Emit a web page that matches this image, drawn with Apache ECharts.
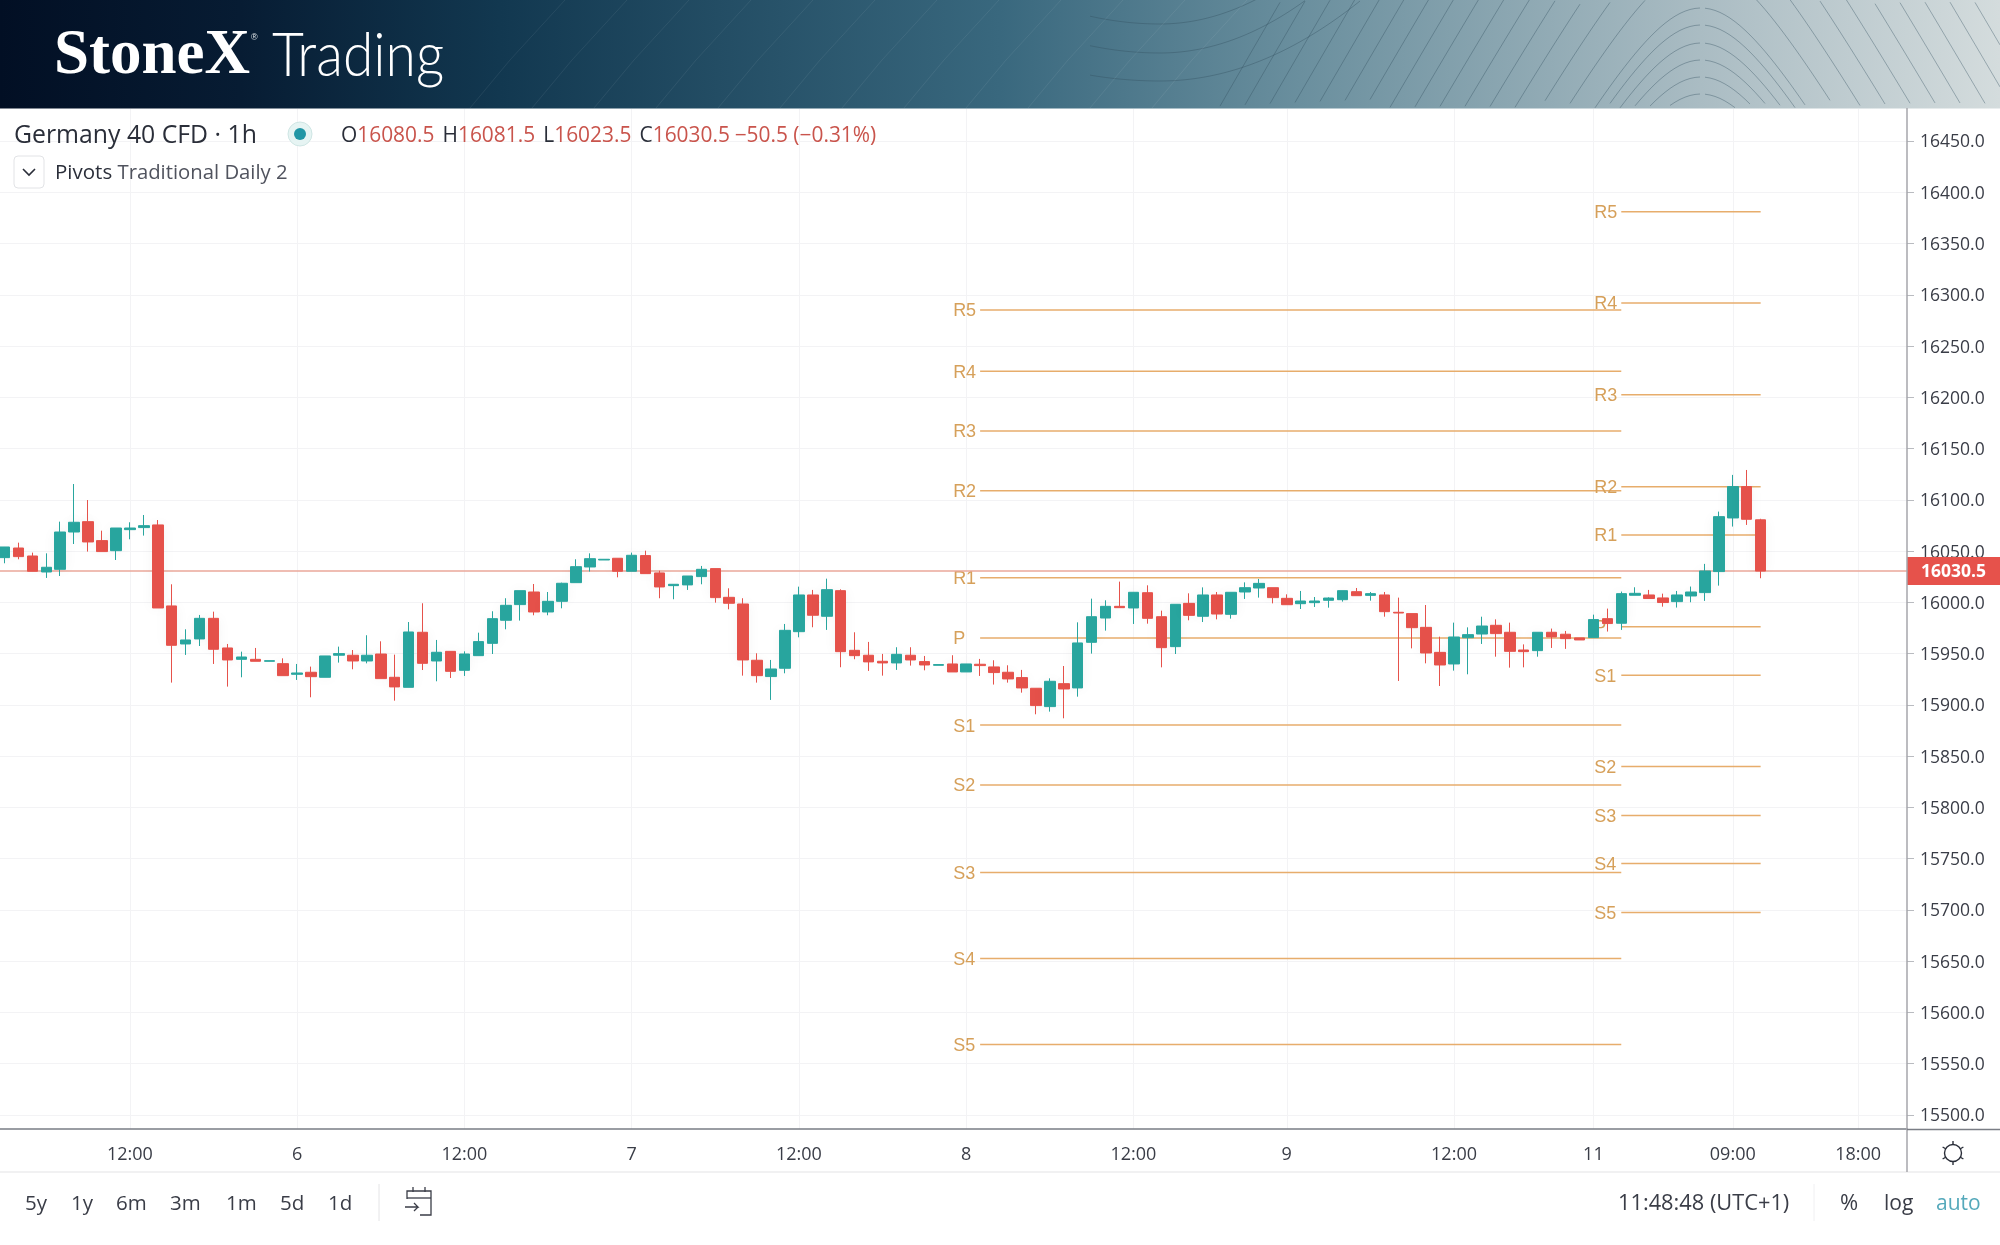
<!DOCTYPE html>
<html><head><meta charset="utf-8">
<style>html,body{margin:0;padding:0;background:#fff}#c{width:2000px;height:1245px}</style>
<script src="https://cdn.jsdelivr.net/npm/echarts@6/dist/echarts.min.js"></script>
</head><body><div id="c"></div>
<script>
const xLabels = [
 '','','','','','','','','','12:00',
 '','','','','','','','','','','','6',
 '','','','','','','','','','','','12:00',
 '','','','','','','','','','','','7',
 '','','','','','','','','','','','12:00',
 '','','','','','','','','','','','8',
 '','','','','','','','','','','','12:00',
 '','','','','','','','','','','9',
 '','','','','','','','','','','','12:00',
 '','','','','','','','','','11',
 '','','','','','','','','','09:00',
 '','','','','','','','','18:00',
 '','',''
];
const opens = [
16043.6,16053.0,16045.2,16029.6,16032.2,16068.6,16078.7,16060.2,16050.4,16070.9,
16072.9,16075.5,15996.5,15959.4,15964.3,15984.4,15955.5,15944.4,15944.4,15942.5,
15940.2,15929.8,15931.8,15926.9,15948.4,15948.4,15942.8,15949.6,15926.9,15917.1,
15970.8,15942.8,15952.2,15933.7,15948.0,15960.0,15982.5,15997.8,16010.1,15990.6,
16001.0,16019.2,16034.5,16041.3,16043.0,16030.3,16045.6,16028.7,16016.3,16017.0,
16025.1,16032.9,16004.9,15998.4,15943.5,15927.6,15935.7,15971.4,16007.2,15986.4,
16011.4,15953.2,15948.4,15942.5,15940.9,15948.4,15942.2,15938.6,15939.9,15932.1,
15939.6,15937.0,15931.8,15926.6,15916.2,15898.3,15920.7,15916.5,15961.0,15984.7,
15996.1,15994.5,16009.4,15986.0,15956.8,15999.0,15986.4,16007.2,15988.3,16010.1,
16014.0,16014.3,16003.9,15998.7,15999.7,16002.0,16002.6,16010.4,16006.8,16007.2,
15990.3,15989.0,15975.6,15951.2,15939.9,15965.5,15969.1,15977.6,15970.8,15953.5,
15952.9,15970.8,15968.9,15965.3,15965.6,15984.1,15979.6,16006.9,16007.2,16004.3,
16000.7,16006.2,16009.5,16030.0,16082.3,16112.9,16080.5];
const closes = [
16054.0,16044.6,16030.3,16034.2,16068.6,16078.1,16058.9,16049.5,16072.5,16072.5,
16074.8,15994.5,15958.1,15963.3,15984.4,15954.2,15943.8,15946.7,15942.5,15943.1,
15928.5,15931.1,15927.5,15947.7,15950.0,15942.8,15948.4,15925.6,15917.5,15971.1,
15940.5,15951.3,15932.7,15949.6,15961.7,15984.1,15997.1,16011.4,15990.6,16001.0,
16018.6,16034.8,16042.6,16042.0,16030.3,16045.9,16028.0,16015.0,16017.6,16025.7,
16032.2,16004.6,15999.1,15943.8,15928.5,15935.0,15972.7,16007.2,15987.4,16012.4,
15951.9,15948.0,15941.9,15940.9,15949.3,15943.8,15938.9,15939.3,15932.1,15939.9,
15938.3,15931.5,15925.3,15916.5,15899.3,15923.0,15915.5,15960.4,15986.0,15996.1,
15994.8,16009.8,15984.4,15955.8,15998.1,15987.3,16007.2,15988.6,16009.8,16014.3,
16018.5,16004.6,15997.7,16001.3,16001.3,16004.2,16011.4,16006.5,16008.5,15990.9,
15989.6,15975.3,15950.6,15938.9,15966.2,15968.5,15976.9,15969.5,15952.2,15951.9,
15970.8,15966.3,15964.6,15963.3,15983.2,15979.3,16008.5,16008.8,16003.7,15999.8,
16007.2,16010.1,16030.6,16083.6,16112.9,16081.0,16030.5];
const highs = [
16054.0,16058.2,16048.5,16047.8,16078.7,16115.4,16099.8,16069.9,16072.5,16078.1,
16085.2,16080.3,16017.6,15973.7,15987.7,15990.9,15959.4,15951.9,15955.5,15943.1,
15945.4,15939.9,15937.3,15947.7,15956.8,15953.5,15967.9,15962.0,15949.0,15980.8,
15999.1,15963.3,15952.2,15952.2,15970.4,15991.3,16004.0,16011.4,16017.9,16010.1,
16019.2,16042.0,16047.8,16042.0,16043.0,16048.5,16050.4,16030.9,16017.6,16025.7,
16035.5,16032.9,16013.7,16004.0,15950.3,15943.8,15978.9,16015.3,16012.1,16023.1,
16012.7,15970.8,15961.4,15949.7,15956.2,15956.2,15947.7,15939.3,15948.4,15939.9,
15944.8,15943.5,15938.6,15934.1,15916.2,15925.9,15937.9,15980.5,16003.6,16002.0,
16020.2,16009.8,16016.6,15991.9,15998.1,16008.8,16014.6,16010.1,16009.8,16019.5,
16022.8,16014.3,16007.8,16011.1,16005.2,16004.9,16011.4,16014.0,16010.1,16010.1,
16004.6,15989.0,15997.4,15966.5,15980.2,15975.6,15986.0,15983.4,15980.2,15959.0,
15970.8,15974.4,15972.1,15965.3,15988.0,15993.9,16010.5,16014.7,16012.1,16008.5,
16011.1,16015.4,16037.5,16088.5,16124.3,16129.1,16081.5];
const lows = [
16038.1,16042.0,16030.3,16023.8,16025.7,16056.9,16049.5,16049.5,16041.3,16061.5,
16065.1,15994.5,15921.7,15948.7,15957.4,15939.9,15917.8,15926.9,15942.5,15942.5,
15928.5,15924.3,15907.4,15926.9,15941.2,15934.7,15940.5,15925.6,15904.1,15917.1,
15934.0,15923.0,15926.2,15928.2,15948.0,15949.6,15973.7,15982.2,15987.4,15987.4,
15994.2,16019.2,16030.0,16041.3,16024.4,16030.3,16028.0,16004.0,16003.0,16012.1,
16017.6,15999.7,15993.2,15928.5,15921.7,15904.8,15930.8,15965.9,15975.7,15973.1,
15936.7,15944.5,15933.1,15928.5,15934.1,15938.3,15933.7,15938.6,15932.1,15932.1,
15928.2,15919.8,15921.7,15911.9,15890.8,15893.4,15886.9,15908.0,15950.0,15972.4,
15994.8,15978.9,15979.2,15936.6,15949.6,15982.5,15980.8,15983.4,15984.1,16003.3,
16004.6,15999.0,15997.7,15993.5,15995.5,15994.8,16000.7,16006.5,16001.6,15986.0,
15923.3,15955.1,15940.5,15918.4,15933.4,15929.8,15959.4,15947.0,15936.3,15936.6,
15947.0,15955.5,15954.6,15963.3,15965.6,15971.5,15973.1,16006.9,16003.7,15995.8,
15994.9,16000.1,16001.4,16016.3,16073.9,16075.5,16023.5];
const pivotNames = ['R5','R4','R3','R2','R1','P','S1','S2','S3','S4','S5'];
const pivotsFirst = [16285.2,16225.5,16167.2,16108.9,16024.1,15965.3,15880.3,15821.9,15736.6,15652.7,15568.6];
const pivotsSecond = [16381.0,16292.0,16202.5,16112.8,16065.7,15976.3,15928.9,15839.9,15792.0,15745.3,15697.4];
const pivotSpans = [[70,116],[116,126]];
const yTicks = [15500,15550,15600,15650,15700,15750,15800,15850,15900,15950,16000,16050,16100,16150,16200,16250,16300,16350,16400,16450];
const lastPrice = 16030.5;
const rangeButtons = ['5y','1y','6m','3m','1m','5d','1d'];
const rangeButtonX = [25,71,116,170,226,280,328];

const UP='#29a69f', DOWN='#e6524b', PIV='#e7ad6c', PIVT='#d6a05a';
const FONT='"Open Sans"';
const chart = echarts.init(document.getElementById('c'),null,{renderer:'canvas',devicePixelRatio:1});
const hasLabel=(i,v)=>v!=='';

function pivotSeries(values,span){
  return {type:'custom',z:2,silent:true,clip:false,
    data:values.map(v=>[span[0],span[1],v]),
    encode:{x:[0,1],y:2},
    renderItem(params,api){
      const a=api.coord([api.value(0),api.value(2)]), b=api.coord([api.value(1),api.value(2)]);
      return {type:'group',children:[
        {type:'line',shape:{x1:a[0],y1:a[1],x2:b[0],y2:b[1]},style:{stroke:PIV,lineWidth:1.5}},
        {type:'text',style:{text:pivotNames[params.dataIndex],x:a[0]-27,y:a[1]+1.5,align:'left',verticalAlign:'middle',
          fill:PIVT,font:'18px "Liberation Sans"'}}
      ]};
    }};
}
const header=[];
header.push({type:'rect',shape:{x:0,y:0,width:2000,height:108.5},z:50,silent:true,style:{fill:new echarts.graphic.LinearGradient(0,0,1,0,[
  {offset:0,color:'#020f24'},{offset:0.12,color:'#071c33'},{offset:0.25,color:'#123850'},{offset:0.5,color:'#39687e'},
  {offset:0.65,color:'#6a8f9e'},{offset:0.85,color:'#aabcc3'},{offset:1,color:'#d4dcdd'}])}});
// decorative contour lines of the banner
const contour=(pts)=>{ if(pts.length>1) header.push({type:'polyline',z:51,silent:true,shape:{points:pts},style:{stroke:'rgba(50,80,95,0.38)',lineWidth:1,fill:null}}); };
const peakOffsets=[8,25,43,60,77,94,-34,-76,-118,-160,-202,-244,-286,-328,-370,-412,-454,-496,-538,-580,-622];
peakOffsets.forEach(y0=>{
  const left=[],right=[];
  for(let x=1200;x<=2000;x+=5){
    const d=x-1701, y=y0+1.75*(Math.sqrt(d*d+4900)-70);
    if(y>=-3&&y<=108) (x<1701?left:right).push([x,y]);
  }
  contour(left);contour(right);
});
[[24,0.00266],[53,0.00249],[81,0.002]].forEach(v=>{
  const pts=[];
  for(let x=1090;x<=1380;x+=5){ const y=v[0]-v[1]*(x-1160)*(x-1160)*(x>1160?1:0.6); if(y>=-3) pts.push([x,y]); }
  contour(pts);
});
for(let k=0;k<12;k++){
  const sx=470+k*62;
  header.push({type:'polyline',z:51,silent:true,shape:{points:[[sx,108],[sx+40,60],[sx+95,0]]},style:{stroke:'rgba(255,255,255,0.07)',lineWidth:1,fill:null}});
}
const txt=(text,x,y,size,fill)=>({type:'text',z:60,silent:true,style:{text,x,y,fill,font:size+'px '+FONT,verticalAlign:'middle',align:'left'}});
const overlay=[
  {type:'text',z:60,silent:true,style:{text:'StoneX',x:54,y:57,fill:'#fff',font:'bold 63px "Liberation Serif"',verticalAlign:'middle'}},
  {type:'text',z:60,silent:true,style:{text:'®',x:251,y:38,fill:'#dfe5e8',font:'9px "Liberation Sans"',verticalAlign:'middle'}},
  {type:'text',z:60,silent:true,x:272,y:56,scaleX:0.89,style:{text:'Trading',x:0,y:0,fill:'#fff',font:'300 62px Lato',verticalAlign:'middle'}},
  txt('Germany 40 CFD · 1h',14,136,24.8,'#2a2e39'),
  {type:'circle',z:60,silent:true,shape:{cx:300,cy:134,r:12},style:{fill:'#e6f4f3',stroke:'#cfe6e4',lineWidth:1}},
  {type:'circle',z:61,silent:true,shape:{cx:300,cy:134,r:6},style:{fill:'#2196a5'}},
  {type:'text',z:60,silent:true,style:{x:341,y:136,verticalAlign:'middle',
    text:'{k|O}{v|16080.5}  {g|H}{v|16081.5}  {g|L}{v|16023.5}  {g|C}{v|16030.5} {g|}{v|−50.5 (−0.31%)}',
    rich:{k:{fill:'#2a2e39',font:'20.9px '+FONT},g:{fill:'#2a2e39',font:'20.9px '+FONT,padding:[0,0,0,1.5]},v:{fill:'#c9544c',font:'20.9px '+FONT}}}},
  {type:'rect',z:60,silent:true,shape:{x:14,y:156,width:30,height:32,r:4},style:{fill:'#fff',stroke:'#e2e3e6',lineWidth:1}},
  {type:'polyline',z:61,silent:true,shape:{points:[[23,169],[29,175],[35,169]]},style:{stroke:'#2a2e39',lineWidth:1.6,fill:null}},
  {type:'text',z:60,silent:true,style:{x:55,y:173,verticalAlign:'middle',text:'{a|Pivots}{s| }{b|Traditional Daily 2}',
    rich:{a:{fill:'#2a2e39',font:'20.5px '+FONT},s:{font:'20.5px '+FONT,fill:'#fff'},b:{fill:'#50535e',font:'20.3px '+FONT}}}},
  {type:'line',z:60,silent:true,shape:{x1:1907,y1:108,x2:1907,y2:1172},style:{stroke:'#a6a6ab',lineWidth:1.5}},
  {type:'line',z:60,silent:true,shape:{x1:1907,y1:1129.5,x2:2000,y2:1129.5},style:{stroke:'#7a7d85',lineWidth:1.5}},
  {type:'line',z:40,silent:true,shape:{x1:0,y1:1172,x2:2000,y2:1172},style:{stroke:'#ececee',lineWidth:1.5}},
  {type:'line',z:60,silent:true,shape:{x1:379,y1:1184,x2:379,y2:1221},style:{stroke:'#e4e4e6',lineWidth:1}},
  {type:'line',z:60,silent:true,shape:{x1:1814,y1:1184,x2:1814,y2:1221},style:{stroke:'#f0f0f2',lineWidth:1}},
  // calendar icon
  {type:'polyline',z:60,silent:true,shape:{points:[[407,1199],[407,1191],[431,1191],[431,1215],[420,1215]]},style:{stroke:'#3a3d47',lineWidth:1.3,fill:null}},
  {type:'line',z:60,silent:true,shape:{x1:407,y1:1198,x2:431,y2:1198},style:{stroke:'#3a3d47',lineWidth:1.3}},
  {type:'line',z:60,silent:true,shape:{x1:413,y1:1187,x2:413,y2:1192},style:{stroke:'#3a3d47',lineWidth:1.3}},
  {type:'line',z:60,silent:true,shape:{x1:425,y1:1187,x2:425,y2:1192},style:{stroke:'#3a3d47',lineWidth:1.3}},
  {type:'polyline',z:60,silent:true,shape:{points:[[405,1207],[418,1207],[414,1203]]},style:{stroke:'#3a3d47',lineWidth:1.3,fill:null}},
  {type:'line',z:60,silent:true,shape:{x1:418,y1:1207,x2:414,y2:1211},style:{stroke:'#3a3d47',lineWidth:1.3}},
  txt('11:48:48 (UTC+1)',1618,1204,21.8,'#3a3d47'),
  txt('%',1840,1204,22,'#3a3d47'),
  txt('log',1884,1204,21,'#3a3d47'),
  txt('auto',1936,1204,21,'#55a9bb'),
  // settings icon
  {type:'circle',z:60,silent:true,shape:{cx:1953,cy:1153,r:8.5},style:{fill:'#fff',stroke:'#2a2e39',lineWidth:1.4}}
];
rangeButtons.forEach((t,i)=>overlay.push(txt(t,rangeButtonX[i],1204,20.5,'#3a3d47')));
for(let a=0;a<6;a++){
  const t=Math.PI/2+a*Math.PI/3, c=Math.cos(t), s=Math.sin(t);
  overlay.push({type:'line',z:60,silent:true,shape:{x1:1953+c*8.5,y1:1153+s*8.5,x2:1953+c*12,y2:1153+s*12},style:{stroke:'#2a2e39',lineWidth:1.4}});
}

chart.setOption({
  animation:false,backgroundColor:'#fff',
  grid:{left:-2.5,top:109,width:1909.5,height:1020,containLabel:false,outerBoundsMode:'none'},
  xAxis:{type:'category',data:xLabels,boundaryGap:true,
    axisLine:{lineStyle:{color:'#7a7d85',width:1.5}},
    axisTick:{alignWithLabel:true,length:6,interval:hasLabel,lineStyle:{color:'#b9bbc0'}},
    splitLine:{show:true,alignWithLabel:true,interval:hasLabel,lineStyle:{color:'#f3f3f5',width:1}},
    axisLabel:{interval:hasLabel,margin:17,color:'#3a3d47',fontFamily:FONT,fontSize:18,hideOverlap:false}},
  yAxis:{type:'value',position:'right',min:15486.3,max:16481.2,scale:true,
    axisLine:{show:false},
    axisTick:{show:true,length:7,customValues:yTicks,lineStyle:{color:'#b9bbc0'}},
    splitLine:{show:true,lineStyle:{color:'#f3f3f5',width:1}},
    axisLabel:{customValues:yTicks,margin:13,color:'#3a3d47',fontFamily:FONT,fontSize:17.5,formatter:v=>'{a|'+v.toFixed(1)+'}',
      rich:{a:{color:'#3a3d47',fontFamily:FONT,fontSize:17.5,padding:[3,0,0,0]}},showMinLabel:true,showMaxLabel:true}},
  series:[
    pivotSeries(pivotsFirst,pivotSpans[0]),
    pivotSeries(pivotsSecond,pivotSpans[1]),
    {type:'custom',z:3,silent:true,clip:false,data:[[0,lastPrice]],encode:{y:1},
      renderItem(params,api){
        const p=api.coord([0,api.value(1)]), r=params.coordSys, right=r.x+r.width;
        return {type:'group',children:[
          {type:'line',shape:{x1:r.x,y1:p[1],x2:right,y2:p[1]},style:{stroke:'#eaa79a',lineWidth:1.4}},
          {type:'rect',shape:{x:right,y:p[1]-14,width:2000-right,height:28},style:{fill:DOWN}},
          {type:'text',style:{text:api.value(1).toFixed(1),x:right+14,y:p[1]+1,verticalAlign:'middle',align:'left',fill:'#fff',font:'bold 17.5px '+FONT}}
        ]};
      }},
    {type:'candlestick',z:5,barWidth:11,silent:true,
      data:opens.map((o,i)=>[o,closes[i],lows[i],highs[i]]),
      itemStyle:{color:UP,color0:DOWN,borderColor:UP,borderColor0:DOWN,borderColorDoji:DOWN,borderWidth:1,shadowBlur:14,shadowColor:'rgba(0,0,0,0.05)'}}
  ],
  graphic:{elements:header.concat(overlay)}
});
</script></body></html>
